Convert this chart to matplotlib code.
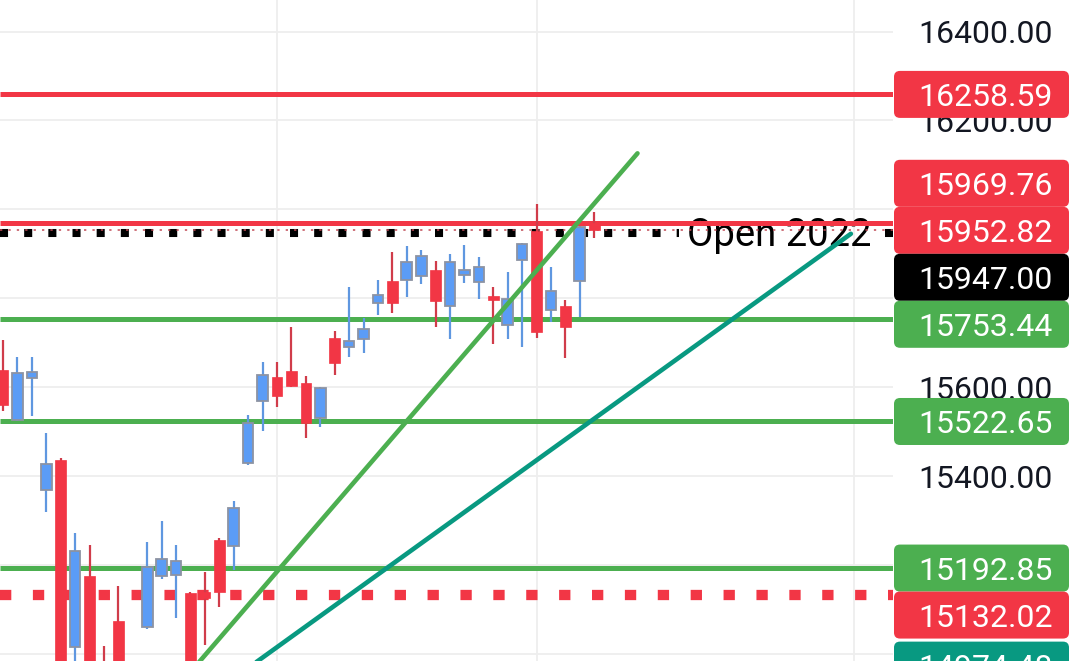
import matplotlib.pyplot as plt
from matplotlib.patches import FancyBboxPatch

plt.rcParams['font.family'] = ['Roboto', 'DejaVu Sans']

# OHLC per bar (bars hidden below the view are estimates)
opens = [15638, 15526, 15620, 15368, 15436, 15015, 15175, 14975, 15074, 14900,
         15060, 15175, 15177, 15137, 15139, 15256, 15242, 15429, 15569, 15623,
         15636, 15609, 15530, 15710, 15690, 15708, 15789, 15839, 15841, 15850,
         15863, 15782, 15852, 15836, 15805, 15740, 15886, 15951, 15773, 15782,
         15839, 15969]
highs = [15706, 15668, 15668, 15497, 15440, 15272, 15245, 15017, 15152, 14978,
         15252, 15299, 15245, 15140, 15184, 15261, 15344, 15537, 15656, 15656,
         15735, 15625, 15600, 15726, 15825, 15755, 15841, 15904, 15917, 15908,
         15884, 15899, 15920, 15893, 15825, 15859, 15924, 16012, 15870, 15796,
         15962, 15994]
lows = [15546, 15524, 15535, 15319, 14880, 14950, 14890, 14880, 14910, 14870,
        15056, 15168, 15081, 14915, 15020, 15105, 15188, 15425, 15501, 15555,
        15600, 15485, 15510, 15627, 15668, 15677, 15762, 15767, 15803, 15832,
        15735, 15708, 15834, 15798, 15697, 15708, 15690, 15710, 15746, 15665,
        15758, 15935]
closes = [15560, 15632, 15634, 15427, 14905, 15231, 14930, 14920, 14945, 14965,
          15195, 15213, 15209, 14940, 15126, 15139, 15328, 15519, 15627, 15580,
          15602, 15519, 15598, 15654, 15704, 15731, 15807, 15789, 15881, 15895,
          15794, 15881, 15863, 15870, 15796, 15798, 15922, 15724, 15816, 15735,
          15960, 15952.82]

# horizontal levels and their price-scale labels
level_prices = [16258.59, 15969.76, 15952.82, 15947.00, 15753.44,
                15522.65, 15192.85, 15132.02, 14974.48]
level_colors = ['#F23645', '#F23645', '#F23645', '#000000', '#4CAF50',
                '#4CAF50', '#4CAF50', '#F23645', '#089981']
last_price = 15952.82
open_2022 = 15947.00

axis_ticks = [15000, 15200, 15400, 15600, 15800, 16000, 16200, 16400]
time_grid = [19, 37, 59]

green_trend_x = [10, 44]
green_trend_y = [14846, 16126]
teal_trend_x = [14, 58.8]
teal_trend_y = [14898, 15945]

RED = '#F23645'
GREEN = '#4CAF50'
TEAL = '#089981'
BLUE = '#5B9CF6'

W, H = 1075, 661
PLOT_W = 893

fig = plt.figure(figsize=(W / 100, H / 100), dpi=100)
ax = fig.add_axes([0, 0, PLOT_W / W, 1])
ax.set_xlim(-0.21, 61.72)
ax.set_ylim(14983.75, 16471)
for s in ax.spines.values():
    s.set_visible(False)
ax.set_yticks(axis_ticks)
ax.set_xticks(time_grid)
ax.tick_params(length=0, labelleft=False, labelbottom=False)
ax.grid(color='#eeeeee', lw=1.3, zorder=0)
ax.set_axisbelow(True)

xs = list(range(len(opens)))

# candles
for x, o, h, l, c in zip(xs, opens, highs, lows, closes):
    up = c >= o
    ax.vlines(x, l, h, color='#5f97e0' if up else '#d03c4a', lw=1.6, zorder=3)
    bot, top = min(o, c), max(o, c)
    ax.bar(x, max(top - bot, 3), bottom=bot, width=0.74,
           color=BLUE if up else RED,
           edgecolor='#8c93a3' if up else RED, lw=1.3 if up else 0.5, zorder=3.1)

# horizontal lines
x0, x1 = ax.get_xlim()
for p, col in zip(level_prices, level_colors):
    if p in (last_price, open_2022):
        continue
    if p == 15132.02:
        ax.hlines(p, x0, x1, color=col, lw=7.4, linestyles=(0, (1.1, 2.1)), zorder=2)
    else:
        ax.hlines(p, x0, x1, color=col, lw=3.6, zorder=2)

# Open 2022 dotted line, broken by its text
ax.hlines(open_2022, x0, 46.9, color='black', lw=5.8, linestyles=(0, (1, 2)), zorder=2)
ax.hlines(open_2022, 61.17, x1, color='black', lw=5.8, linestyles=(0, (1, 2)), zorder=2)
ax.text(60.2, 15917.5, 'Open 2022', ha='right', va='baseline', fontsize=27.5,
        color='black', zorder=1.5)

# last price line
ax.hlines(last_price, x0, x1, color='#c04a55', lw=1.1, linestyles=(0, (1.5, 4)), zorder=2.5)

# trend lines
ax.plot(green_trend_x, green_trend_y, color=GREEN, lw=3.3, solid_capstyle='round', zorder=4)
ax.plot(teal_trend_x, teal_trend_y, color=TEAL, lw=3.3, solid_capstyle='round', zorder=4)

# price scale (pixel coordinates)
sax = fig.add_axes([PLOT_W / W, 0, (W - PLOT_W) / W, 1])
sax.set_xlim(PLOT_W, W)
sax.set_ylim(H, 0)
sax.axis('off')


def to_px(p):
    return H - ax.transData.transform((0, p))[1]


# stack labels around the last price label so they do not overlap
box_h = 47
ys = [to_px(p) for p in level_prices]
a = level_prices.index(last_price)
for i in range(a - 1, -1, -1):
    ys[i] = min(ys[i], ys[i + 1] - box_h)
for i in range(a + 1, len(ys)):
    ys[i] = max(ys[i], ys[i - 1] + box_h)

# axis tick labels, skipped where a level label covers them
for v in axis_ticks:
    ty = to_px(v)
    if any(abs(ty - yc) < box_h / 2 for yc in ys):
        continue
    sax.text(1053, ty, f'{v:.2f}', ha='right', va='center_baseline',
             fontsize=23, color='#131722', zorder=1)

for p, col, yc in zip(level_prices, level_colors, ys):
    sax.add_patch(FancyBboxPatch((894, yc - box_h / 2), 175, box_h,
                                 boxstyle='round,pad=0,rounding_size=6',
                                 fc=col, ec='none', zorder=2, clip_on=False))
    sax.text(1053, yc, f'{p:.2f}', ha='right', va='center_baseline',
             fontsize=23, color='white', zorder=3)

fig.savefig('out.png', dpi=100)
